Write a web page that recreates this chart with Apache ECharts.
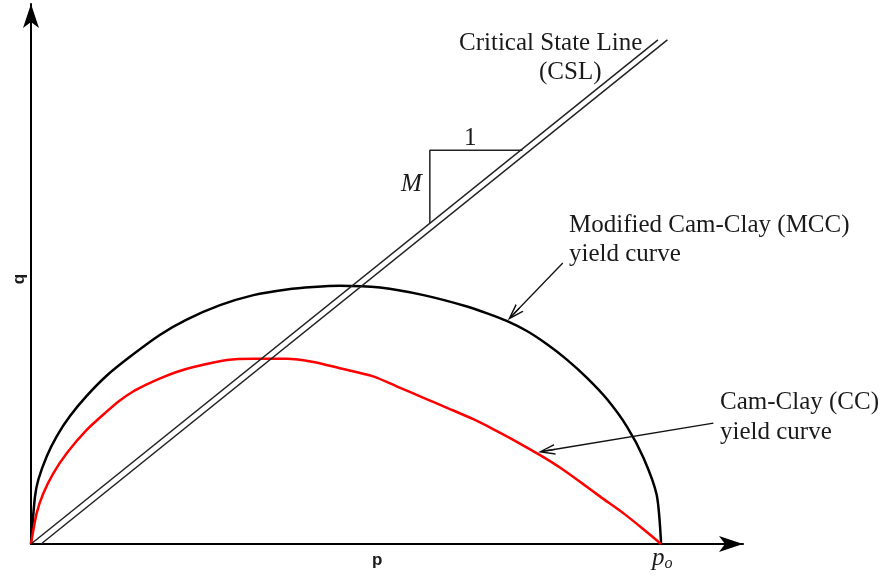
<!DOCTYPE html>
<html>
<head>
<meta charset="utf-8">
<script src="https://cdn.jsdelivr.net/npm/echarts@6/dist/echarts.min.js"></script>
<style>html,body{margin:0;padding:0;background:#fff}#c{width:888px;height:579px}</style>
</head>
<body>
<div id="c"></div>
<script>
// ---- Data (p, q in units where p0 = 100) ----
const mccP = [0, 0.63, 1.16, 2.49, 4.08, 6.19, 8.84, 12.0, 15.7, 20.5, 24.7, 30.0, 35.3, 40.6, 44.8, 49.0, 55.4, 62.3, 69.2, 72.4, 75.5, 78.7, 81.9, 85.0, 88.2, 91.4, 94.6, 97.2, 99.3, 100];
const mccQ = [0, 7.5, 10.2, 13.9, 17.1, 20.3, 23.5, 26.7, 29.7, 33.2, 35.6, 37.9, 39.5, 40.4, 40.8, 41.0, 40.7, 39.5, 37.7, 36.6, 35.4, 33.8, 31.7, 29.3, 26.4, 23.0, 18.6, 13.7, 7.8, 0];
const ccP = [0, 0.9, 1.95, 3.54, 5.67, 8.84, 12.0, 14.0, 16.2, 18.3, 20.5, 23.1, 25.8, 31.1, 35.3, 40.6, 44.8, 49.0, 54.3, 58.3, 62.3, 66.3, 70.2, 73.4, 76.6, 80.8, 84.0, 87.1, 90.5, 94.0, 97.0, 100];
const ccQ = [0, 4.9, 8.0, 11.2, 14.4, 18.1, 21.0, 22.7, 24.2, 25.3, 26.3, 27.3, 28.1, 29.2, 29.4, 29.4, 28.9, 27.9, 26.6, 24.9, 23.2, 21.5, 19.8, 18.2, 16.5, 14.1, 12.1, 9.9, 7.4, 4.9, 2.5, 0];
const cslAP = [0, 99.5];
const cslAQ = [0, 80.0];
const cslBP = [1.6, 101.0];
const cslBQ = [0, 80.0];
const triP = [78.0, 63.3, 63.3];
const triQ = [62.5, 62.5, 50.9];
// annotation arrows (from, to) in data units
const mccArrow = [[84.4, 44.6], [76.6, 36.5]];
const ccArrow = [[108.3, 19.2], [81.8, 14.8]];
const pMax = 113.0, qMax = 85.7;

const zip = (a, b) => a.map((v, i) => [v, b[i]]);
const chevron = 'path://M50,0 L100,100 L86,100 L56,40 L56,100 L44,100 L44,40 L14,100 L0,100 Z';
const serif = '"Liberation Serif", "DejaVu Serif", serif';
const sans = '"Liberation Sans", Arial, sans-serif';
const txtColor = '#1a1a1a';

const chart = echarts.init(document.getElementById('c'), null, {renderer: 'canvas'});
const axisCommon = {
  type: 'value', min: 0,
  axisLine: {show: true, symbol: ['none', 'arrow'], symbolSize: [12, 24], lineStyle: {color: '#000', width: 2}},
  axisTick: {show: false}, axisLabel: {show: false}, splitLine: {show: false}
};
const lineBase = {type: 'line', showSymbol: false, symbol: 'none', silent: true, animation: false};
chart.setOption({
  animation: false,
  grid: {left: 31, right: 145, top: 4, bottom: 35},
  xAxis: Object.assign({}, axisCommon, {max: pMax}),
  yAxis: Object.assign({}, axisCommon, {max: qMax}),
  series: [
    Object.assign({}, lineBase, {name: 'MCC', data: zip(mccP, mccQ), smooth: 0.25, lineStyle: {color: '#000', width: 2.5}}),
    Object.assign({}, lineBase, {name: 'CC', data: zip(ccP, ccQ), smooth: 0.25, lineStyle: {color: '#ff0000', width: 2.5}}),
    Object.assign({}, lineBase, {name: 'CSL A', data: zip(cslAP, cslAQ), lineStyle: {color: '#222', width: 1.5}}),
    Object.assign({}, lineBase, {name: 'CSL B', data: zip(cslBP, cslBQ), lineStyle: {color: '#222', width: 1.5}}),
    Object.assign({}, lineBase, {name: 'Slope', data: zip(triP, triQ), lineStyle: {color: '#222', width: 1.5},
      markLine: {
        silent: true, animation: false,
        symbol: ['none', chevron], symbolSize: [11, 17],
        label: {show: false},
        lineStyle: {color: '#111', width: 1.3, type: 'solid'},
        data: [
          [{coord: mccArrow[0]}, {coord: mccArrow[1]}],
          [{coord: ccArrow[0]}, {coord: ccArrow[1]}]
        ]
      }})
  ],
  graphic: [
    {type: 'text', left: 459, top: 31, style: {text: 'Critical State Line', font: '25px ' + serif, fill: txtColor}},
    {type: 'text', left: 539, top: 60, style: {text: '(CSL)', font: '25px ' + serif, fill: txtColor}},
    {type: 'text', left: 569, top: 213, style: {text: 'Modified Cam-Clay (MCC)', font: '25px ' + serif, fill: txtColor}},
    {type: 'text', left: 569, top: 242, style: {text: 'yield curve', font: '25px ' + serif, fill: txtColor}},
    {type: 'text', left: 720, top: 390, style: {text: 'Cam-Clay (CC)', font: '25px ' + serif, fill: txtColor}},
    {type: 'text', left: 720, top: 420, style: {text: 'yield curve', font: '25px ' + serif, fill: txtColor}},
    {type: 'text', left: 464, top: 126, style: {text: '1', font: '25px ' + serif, fill: txtColor}},
    {type: 'text', left: 401, top: 172, style: {text: 'M', font: 'italic 25px ' + serif, fill: txtColor}},
    {type: 'text', left: 372, top: 552, style: {text: 'p', font: 'bold 17px ' + sans, fill: txtColor}},
    {type: 'text', x: 19, y: 279, rotation: Math.PI / 2, style: {text: 'q', font: 'bold 17px ' + sans, fill: txtColor, align: 'center', verticalAlign: 'middle'}},
    {type: 'text', left: 652, top: 546, style: {
      text: '{a|p}{b|o}', fill: txtColor,
      rich: {a: {font: 'italic 25px ' + serif, fill: txtColor}, b: {font: 'italic 16px ' + serif, fill: txtColor, padding: [11, 0, 0, 0]}}
    }}
  ]
});
</script>
</body>
</html>
